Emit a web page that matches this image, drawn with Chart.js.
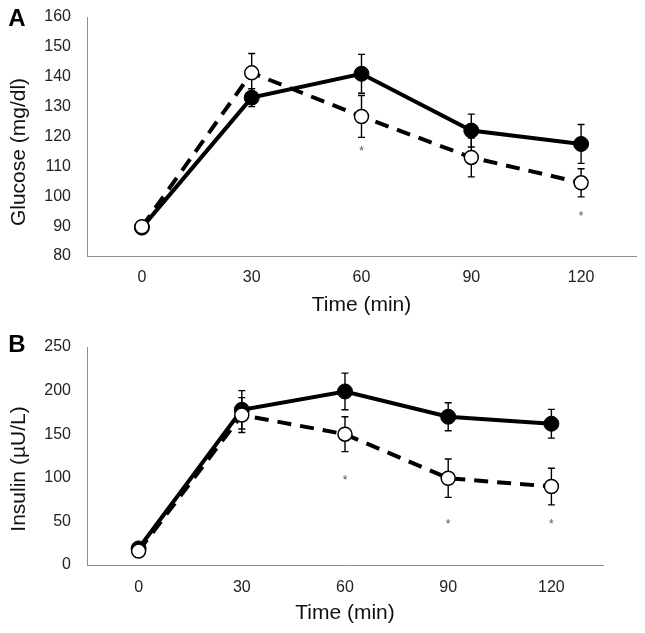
<!DOCTYPE html>
<html>
<head>
<meta charset="utf-8">
<script src="https://cdn.jsdelivr.net/npm/chart.js@4.4.0/dist/chart.umd.min.js"></script>
<style>
  body { margin: 0; background: #fff; }
  .panel { position: relative; width: 645px; }
</style>
</head>
<body>
<div class="panel" style="height:320px"><canvas id="glucoseChart"></canvas></div>
<div class="panel" style="height:313px"><canvas id="insulinChart"></canvas></div>
<script>
// Sampling times (min)
const timeLabels = ['0', '30', '60', '90', '120'];

// Panel A - glucose (mg/dl)
const glucoseFilled = [89.5, 133, 141, 122, 117.5];
const glucoseFilledErr = [1.5, 3, 6.5, 5.5, 6.5];
const glucoseOpen = [89.8, 141.3, 126.7, 113, 104.5];
const glucoseOpenErr = [1.5, 6.5, 7, 6.5, 4.7];
const glucoseStars = [null, null, 116, null, 94];
const glucoseTicks = { min: 80, max: 160, step: 10 };

// Panel B - insulin (µU/L)
const insulinFilled = [19, 178, 199, 170, 162];
const insulinFilledErr = [3, 22, 21, 16, 16.5];
const insulinOpen = [16, 172, 150, 99.5, 90];
const insulinOpenErr = [3, 20, 20, 22, 21];
const insulinStars = [null, null, 100, 50, 50];
const insulinTicks = { min: 0, max: 250, step: 50 };

const FONT = "'Liberation Sans', Arial, Helvetica, sans-serif";
const AXIS_GRAY = '#8f8f8f';

// draws the SEM whiskers of a dataset just before the dataset itself
const errorBars = {
    id: 'errorBars',
    beforeDatasetDraw(chart, args) {
        const ds = chart.data.datasets[args.index];
        if (!ds.errors) return;
        const yScale = chart.scales.y;
        const ctx = chart.ctx;
        ctx.save();
        ctx.strokeStyle = '#000';
        ctx.lineWidth = 1.4;
        args.meta.data.forEach((pt, i) => {
            const v = ds.data[i];
            const e = ds.errors[i];
            const top = yScale.getPixelForValue(v + e);
            const bot = yScale.getPixelForValue(v - e);
            ctx.beginPath();
            ctx.moveTo(pt.x, top); ctx.lineTo(pt.x, bot);
            ctx.moveTo(pt.x - 3.5, top); ctx.lineTo(pt.x + 3.5, top);
            ctx.moveTo(pt.x - 3.5, bot); ctx.lineTo(pt.x + 3.5, bot);
            ctx.stroke();
        });
        ctx.restore();
    }
};

// panel letter, rotated y title and significance stars
const panelText = {
    id: 'panelText',
    afterDraw(chart, args, opts) {
        const { ctx, scales: { x, y } } = chart;
        ctx.save();
        ctx.fillStyle = '#000';
        ctx.font = 'bold 24px ' + FONT;
        ctx.textAlign = 'center';
        ctx.textBaseline = 'middle';
        ctx.fillText(opts.letter, opts.letterX, opts.letterY);

        ctx.save();
        ctx.font = '21px ' + FONT;
        ctx.fillStyle = '#111';
        ctx.translate(opts.titleX, opts.titleY);
        ctx.rotate(-Math.PI / 2);
        ctx.fillText(opts.title, 0, 0);
        ctx.restore();

        ctx.font = '12px ' + FONT;
        ctx.fillStyle = '#555';
        opts.stars.forEach((v, i) => {
            if (v === null) return;
            ctx.fillText('*', x.getPixelForValue(i), y.getPixelForValue(v) + 3);
        });
        ctx.restore();
    }
};

function makePanel(canvasId, cfg) {
    return new Chart(document.getElementById(canvasId), {
        type: 'line',
        data: {
            labels: timeLabels,
            datasets: [
                {
                    data: cfg.filled,
                    errors: cfg.filledErr,
                    order: 2,
                    borderColor: '#000',
                    borderWidth: 4,
                    pointRadius: 7.5,
                    pointBackgroundColor: '#000',
                    pointBorderColor: '#000',
                    pointBorderWidth: 1,
                    tension: 0
                },
                {
                    data: cfg.open,
                    errors: cfg.openErr,
                    order: 1,
                    borderColor: '#000',
                    borderWidth: 4,
                    borderDash: [14, 9],
                    pointRadius: 7,
                    pointBackgroundColor: '#fff',
                    pointBorderColor: '#000',
                    pointBorderWidth: 1.5,
                    tension: 0
                }
            ]
        },
        options: {
            responsive: true,
            maintainAspectRatio: false,
            animation: false,
            layout: { padding: cfg.padding },
            scales: {
                x: {
                    type: 'category',
                    offset: true,
                    grid: { display: false, drawTicks: false },
                    border: { color: AXIS_GRAY, width: 1 },
                    ticks: { color: '#222', padding: cfg.xTickPad, font: { family: FONT, size: 16 } },
                    title: {
                        display: true,
                        text: 'Time (min)',
                        color: '#111',
                        padding: 0,
                        font: { family: FONT, size: 21 }
                    },
                    afterFit: (scale) => { scale.height = cfg.xAxisHeight; }
                },
                y: {
                    min: cfg.ticks.min,
                    max: cfg.ticks.max,
                    // invisible tick marks keep the labels away from the axis line
                    grid: { display: false, drawTicks: true, tickLength: 14 },
                    border: { color: AXIS_GRAY, width: 1 },
                    ticks: {
                        stepSize: cfg.ticks.step,
                        color: '#222',
                        padding: 2,
                        font: { family: FONT, size: 16 }
                    },
                    afterFit: (scale) => { scale.width = 87; }
                }
            },
            plugins: {
                legend: { display: false },
                tooltip: { enabled: false },
                panelText: {
                    letter: cfg.letter,
                    letterX: 17,
                    letterY: cfg.letterY,
                    title: cfg.title,
                    titleX: 19,
                    titleY: cfg.titleY,
                    stars: cfg.stars
                }
            }
        },
        plugins: [errorBars, panelText]
    });
}

makePanel('glucoseChart', {
    filled: glucoseFilled, filledErr: glucoseFilledErr,
    open: glucoseOpen, openErr: glucoseOpenErr,
    stars: glucoseStars, ticks: glucoseTicks,
    letter: 'A', letterY: 19,
    title: 'Glucose (mg/dl)', titleY: 152,
    padding: { top: 17, right: 9, bottom: 2, left: 0 },
    xAxisHeight: 62, xTickPad: 12
});

makePanel('insulinChart', {
    filled: insulinFilled, filledErr: insulinFilledErr,
    open: insulinOpen, openErr: insulinOpenErr,
    stars: insulinStars, ticks: insulinTicks,
    letter: 'B', letterY: 25,
    title: 'Insulin (\u00b5U/L)', titleY: 149,
    padding: { top: 27, right: 42, bottom: 7, left: 0 },
    xAxisHeight: 61, xTickPad: 13
});
</script>
</body>
</html>
